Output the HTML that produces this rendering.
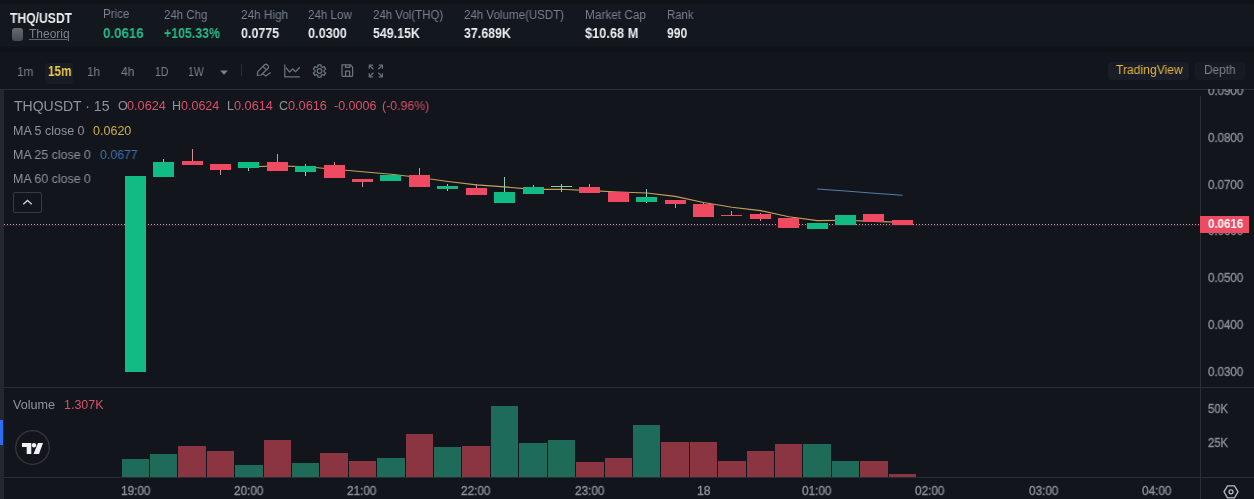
<!DOCTYPE html>
<html><head><meta charset="utf-8"><style>
html,body{margin:0;padding:0;}
body{width:1254px;height:499px;overflow:hidden;position:relative;background:#12161c;font-family:"Liberation Sans",sans-serif;}
.t{position:absolute;white-space:nowrap;transform-origin:0 50%;-webkit-font-smoothing:antialiased;will-change:transform;}
.abs{position:absolute;}
</style></head><body>
<div class="abs" style="left:0;top:0;width:1254px;height:48px;background:#13171e;"></div>
<div class="abs" style="left:0;top:0;width:1254px;height:3.5px;background:#0f1217;"></div>
<div class="abs" style="left:0;top:46px;width:1254px;height:7px;background:linear-gradient(#13171e,#0f1217 30%,#0f1217 65%,#12161c);"></div>
<div class="abs" style="left:12px;top:28px;width:11px;height:13px;border-radius:3px;background:linear-gradient(#676b72,#464a51);"></div>
<div class="abs" style="left:45px;top:62.5px;width:28px;height:21px;border-radius:3px;background:#181c23;"></div>
<div class="abs" style="left:1108px;top:62px;width:81px;height:18px;border-radius:4px;background:#191d27;"></div>
<div class="abs" style="left:1195px;top:62px;width:50px;height:18px;border-radius:4px;background:#171b21;"></div>
<div class="abs" style="left:241px;top:64px;width:1px;height:12px;background:#2a2e36;"></div>
<svg class="abs" style="left:0;top:0" width="1254" height="499" viewBox="0 0 1254 499">
<!-- dropdown triangle -->
<path d="M220,70.5 L228,70.5 L224,74.8 Z" fill="#7a818b"/>
<!-- pencil -->
<g fill="none" stroke="#6c737d" stroke-width="1.25" stroke-linejoin="round">
<path d="M257.3,75.3 L257.8,71.6 L264.6,64.8 Q266,63.6 267.4,65 L268,65.6 Q269.3,67 268,68.3 L261.2,75 Z"/>
<path d="M263,66.5 L266.2,69.6"/>
<path d="M262.3,73.6 L265.8,76.1 L270.6,72.6"/>
<!-- chart icon -->
<path d="M284.8,64.5 L284.8,76.8 L299.8,76.8"/>
<path d="M286,67.6 L289.5,72 L292.7,69 L295.5,71.8 L299.8,67.2"/>
<!-- gear -->
<path d="M318.06,64.76 L320.94,64.76 L321.22,66.73 L322.33,67.38 L324.18,66.64 L325.62,69.13 L324.06,70.36 L324.06,71.64 L325.62,72.87 L324.18,75.36 L322.33,74.62 L321.22,75.27 L320.94,77.24 L318.06,77.24 L317.78,75.27 L316.67,74.62 L314.82,75.36 L313.38,72.87 L314.94,71.64 L314.94,70.36 L313.38,69.13 L314.82,66.64 L316.67,67.38 L317.78,66.73 Z"/>
<circle cx="319.5" cy="71.0" r="2.3"/>
<!-- save -->
<path d="M342,64.8 L350.3,64.8 L352.6,67.1 L352.6,75.6 Q352.6,76.3 351.9,76.3 L342.7,76.3 Q342,76.3 342,75.6 Z"/>
<path d="M345.6,76.3 L345.6,71 L349.6,71 L349.6,76.3"/>
<path d="M345.6,64.8 L345.6,67.4 L349.8,67.4 L349.8,64.8"/>
<!-- fullscreen -->
<path d="M369.3,68.8 L369.3,65.1 L373,65.1 M378.8,65.1 L382.4,65.1 L382.4,68.8 M382.4,73.2 L382.4,76.9 L378.8,76.9 M373,76.9 L369.3,76.9 L369.3,73.2"/>
<path d="M369.8,65.6 L373.4,69.2 M381.9,65.6 L378.3,69.2 M381.9,76.4 L378.3,72.8 M369.8,76.4 L373.4,72.8"/>
</g>
</svg>
<div class="abs" style="left:0;top:88.5px;width:1254px;height:1.5px;background:#292d34;"></div>
<div class="abs" style="left:0;top:90px;width:4px;height:409px;background:#23282e;"></div>
<div class="abs" style="left:0;top:420px;width:3px;height:25px;background:#2f6bf0;"></div>
<div class="abs" style="left:1200px;top:96px;width:1px;height:403px;background:#292d34;"></div>
<div class="abs" style="left:4px;top:387px;width:1250px;height:1px;background:#292d34;"></div>
<div class="abs" style="left:4px;top:477px;width:1250px;height:1px;background:#292d34;"></div>
<div class="abs" style="left:13px;top:192px;width:27px;height:18.5px;border:1px solid #363a42;border-radius:2px;"></div>
<svg class="abs" style="left:0;top:0" width="1254" height="499" viewBox="0 0 1254 499">
<path d="M23.3,204.3 L27.5,200.5 L31.7,204.3" fill="none" stroke="#d0d3d8" stroke-width="1.3"/>
<line x1="4" y1="225.5" x2="1200" y2="225.5" stroke="#301d25" stroke-width="1"/>
<line x1="4" y1="224.5" x2="1200" y2="224.5" stroke="#c2a6ae" stroke-width="1" stroke-dasharray="1 2"/>
<rect x="122" y="459" width="27" height="18" fill="#1f6b5a"/>
<rect x="150" y="454" width="27" height="23" fill="#1f6b5a"/>
<rect x="178" y="446" width="28" height="31" fill="#8b3442"/>
<rect x="207" y="451" width="27" height="26" fill="#8b3442"/>
<rect x="235" y="465" width="28" height="12" fill="#1f6b5a"/>
<rect x="264" y="440" width="27" height="37" fill="#8b3442"/>
<rect x="292" y="463" width="27" height="14" fill="#1f6b5a"/>
<rect x="320" y="453" width="28" height="24" fill="#8b3442"/>
<rect x="349" y="461" width="27" height="16" fill="#8b3442"/>
<rect x="377" y="458" width="28" height="19" fill="#1f6b5a"/>
<rect x="406" y="434" width="27" height="43" fill="#8b3442"/>
<rect x="434" y="447" width="27" height="30" fill="#1f6b5a"/>
<rect x="462" y="446" width="28" height="31" fill="#8b3442"/>
<rect x="491" y="406" width="27" height="71" fill="#1f6b5a"/>
<rect x="519" y="443" width="28" height="34" fill="#1f6b5a"/>
<rect x="548" y="440" width="27" height="37" fill="#1f6b5a"/>
<rect x="576" y="462" width="28" height="15" fill="#8b3442"/>
<rect x="605" y="458" width="27" height="19" fill="#8b3442"/>
<rect x="633" y="425" width="27" height="52" fill="#1f6b5a"/>
<rect x="661" y="442" width="28" height="35" fill="#8b3442"/>
<rect x="690" y="442" width="27" height="35" fill="#8b3442"/>
<rect x="718" y="461" width="28" height="16" fill="#8b3442"/>
<rect x="747" y="451" width="27" height="26" fill="#8b3442"/>
<rect x="775" y="444" width="27" height="33" fill="#8b3442"/>
<rect x="803" y="444" width="28" height="33" fill="#1f6b5a"/>
<rect x="832" y="461" width="27" height="16" fill="#1f6b5a"/>
<rect x="860" y="461" width="28" height="16" fill="#8b3442"/>
<rect x="889" y="474" width="27" height="3" fill="#8b3442"/>
<path d="M249.1,167.0 L277.5,165.9 L305.9,166.7 L334.3,169.3 L362.8,171.7 L391.2,174.2 L419.6,177.5 L448.0,181.5 L476.4,184.9 L504.8,186.9 L533.2,189.4 L561.6,189.3 L590.0,190.6 L618.4,192.0 L646.8,193.0 L675.2,196.4 L703.6,202.5 L732.0,207.2 L760.5,210.6 L788.9,216.8 L817.3,220.6 L845.7,220.2 L874.1,221.4 L902.5,222.4" fill="none" stroke="#c4a05a" stroke-width="1.1"/>
<path d="M817.3,189.0 L845.7,191.0 L874.1,193.3 L902.5,195.3" fill="none" stroke="#4f7ea8" stroke-width="1.1"/>
<rect x="125" y="176" width="21" height="196" fill="#12bb84"/>
<rect x="163" y="159" width="1" height="3" fill="#86d2b2"/>
<rect x="153" y="162" width="21" height="15" fill="#12bb84"/>
<rect x="192" y="149" width="1" height="12" fill="#d98e9a"/>
<rect x="182" y="161" width="21" height="4" fill="#ef4a61"/>
<rect x="220" y="170" width="1" height="5" fill="#d98e9a"/>
<rect x="210" y="164" width="21" height="6" fill="#ef4a61"/>
<rect x="248" y="168" width="1" height="3" fill="#86d2b2"/>
<rect x="238" y="162" width="21" height="6" fill="#12bb84"/>
<rect x="277" y="154" width="1" height="8" fill="#d98e9a"/>
<rect x="267" y="162" width="21" height="9" fill="#ef4a61"/>
<rect x="305" y="164" width="1" height="2" fill="#86d2b2"/>
<rect x="305" y="172" width="1" height="4" fill="#86d2b2"/>
<rect x="295" y="166" width="21" height="6" fill="#12bb84"/>
<rect x="334" y="162" width="1" height="3" fill="#d98e9a"/>
<rect x="324" y="165" width="21" height="13" fill="#ef4a61"/>
<rect x="362" y="182" width="1" height="5" fill="#d98e9a"/>
<rect x="352" y="179" width="21" height="3" fill="#ef4a61"/>
<rect x="380" y="175" width="21" height="6" fill="#12bb84"/>
<rect x="419" y="168" width="1" height="7" fill="#d98e9a"/>
<rect x="409" y="175" width="21" height="12" fill="#ef4a61"/>
<rect x="447" y="184" width="1" height="2" fill="#86d2b2"/>
<rect x="447" y="189" width="1" height="2" fill="#86d2b2"/>
<rect x="437" y="186" width="21" height="3" fill="#12bb84"/>
<rect x="476" y="184" width="1" height="4" fill="#d98e9a"/>
<rect x="466" y="188" width="21" height="7" fill="#ef4a61"/>
<rect x="504" y="177" width="1" height="15" fill="#86d2b2"/>
<rect x="494" y="192" width="21" height="11" fill="#12bb84"/>
<rect x="533" y="185" width="1" height="2" fill="#86d2b2"/>
<rect x="523" y="187" width="21" height="7" fill="#12bb84"/>
<rect x="561" y="184" width="1" height="2" fill="#86d2b2"/>
<rect x="561" y="187" width="1" height="5" fill="#86d2b2"/>
<rect x="551" y="186" width="21" height="1" fill="#7fcfa9"/>
<rect x="589" y="184" width="1" height="3" fill="#d98e9a"/>
<rect x="579" y="187" width="21" height="6" fill="#ef4a61"/>
<rect x="608" y="192" width="21" height="10" fill="#ef4a61"/>
<rect x="646" y="189" width="1" height="8" fill="#86d2b2"/>
<rect x="646" y="202" width="1" height="1" fill="#86d2b2"/>
<rect x="636" y="197" width="21" height="5" fill="#12bb84"/>
<rect x="675" y="204" width="1" height="4" fill="#d98e9a"/>
<rect x="665" y="200" width="21" height="4" fill="#ef4a61"/>
<rect x="703" y="203" width="1" height="1" fill="#d98e9a"/>
<rect x="693" y="204" width="21" height="13" fill="#ef4a61"/>
<rect x="731" y="211" width="1" height="4" fill="#d98e9a"/>
<rect x="721" y="215" width="21" height="1" fill="#ef4a61"/>
<rect x="760" y="213" width="1" height="1" fill="#d98e9a"/>
<rect x="760" y="219" width="1" height="2" fill="#d98e9a"/>
<rect x="750" y="214" width="21" height="5" fill="#ef4a61"/>
<rect x="778" y="218" width="21" height="10" fill="#ef4a61"/>
<rect x="807" y="223" width="21" height="6" fill="#12bb84"/>
<rect x="835" y="215" width="21" height="10" fill="#12bb84"/>
<rect x="863" y="214" width="21" height="8" fill="#ef4a61"/>
<rect x="892" y="220" width="21" height="5" fill="#ef4a61"/>
<circle cx="32.5" cy="447.5" r="16.8" fill="none" stroke="#343840" stroke-width="1.3"/>
<path d="M22,443 L31.3,443 L31.3,454 L26.7,454 L26.7,447 L22,447 Z" fill="#f0f2f5"/>
<circle cx="34" cy="445.3" r="2.2" fill="#f0f2f5"/>
<path d="M38,443 L43,443 L39,454 L33.5,454 Z" fill="#f0f2f5"/>
<path d="M1227.5,485.8 L1234.5,485.8 L1238,491.8 L1234.5,497.8 L1227.5,497.8 L1224,491.8 Z" fill="none" stroke="#b8bcc2" stroke-width="1.3"/>
<circle cx="1231" cy="491.8" r="2" fill="none" stroke="#b8bcc2" stroke-width="1.3"/>
</svg>
<div class="t" id="t0" style="left:9.6px;top:11.25px;font-size:14px;line-height:14px;font-weight:700;color:#eaecef;transform:scaleX(0.8667);">THQ/USDT</div>
<div class="t" id="t1" style="left:28.8px;top:27.74px;font-size:12px;line-height:12px;font-weight:400;color:#7d848e;transform:scaleX(0.9902);text-decoration:underline;text-underline-offset:1px;text-decoration-color:#5f656e;">Theoriq</div>
<div class="t" id="t2" style="left:103.0px;top:7.74px;font-size:12px;line-height:12px;font-weight:400;color:#7a818b;transform:scaleX(0.9630);">Price</div>
<div class="t" id="t3" style="left:103.0px;top:26.25px;font-size:14px;line-height:14px;font-weight:700;color:#25bb86;transform:scaleX(0.9488);">0.0616</div>
<div class="t" id="t4" style="left:164.0px;top:8.74px;font-size:12px;line-height:12px;font-weight:400;color:#7a818b;transform:scaleX(0.9556);">24h Chg</div>
<div class="t" id="t5" style="left:164.0px;top:26.25px;font-size:14px;line-height:14px;font-weight:700;color:#25bb86;transform:scaleX(0.8810);">+105.33%</div>
<div class="t" id="t6" style="left:240.5px;top:8.74px;font-size:12px;line-height:12px;font-weight:400;color:#7a818b;transform:scaleX(0.9833);">24h High</div>
<div class="t" id="t7" style="left:240.5px;top:26.25px;font-size:14px;line-height:14px;font-weight:700;color:#eaecef;transform:scaleX(0.8907);">0.0775</div>
<div class="t" id="t8" style="left:308.0px;top:8.74px;font-size:12px;line-height:12px;font-weight:400;color:#7a818b;transform:scaleX(0.9667);">24h Low</div>
<div class="t" id="t9" style="left:308.0px;top:26.25px;font-size:14px;line-height:14px;font-weight:700;color:#eaecef;transform:scaleX(0.9070);">0.0300</div>
<div class="t" id="t10" style="left:373.0px;top:8.74px;font-size:12px;line-height:12px;font-weight:400;color:#7a818b;transform:scaleX(0.9589);">24h Vol(THQ)</div>
<div class="t" id="t11" style="left:373.0px;top:26.25px;font-size:14px;line-height:14px;font-weight:700;color:#eaecef;transform:scaleX(0.8868);">549.15K</div>
<div class="t" id="t12" style="left:464.0px;top:8.74px;font-size:12px;line-height:12px;font-weight:400;color:#7a818b;transform:scaleX(0.9615);">24h Volume(USDT)</div>
<div class="t" id="t13" style="left:464.0px;top:26.25px;font-size:14px;line-height:14px;font-weight:700;color:#eaecef;transform:scaleX(0.8868);">37.689K</div>
<div class="t" id="t14" style="left:585.0px;top:8.74px;font-size:12px;line-height:12px;font-weight:400;color:#7a818b;transform:scaleX(0.9839);">Market Cap</div>
<div class="t" id="t15" style="left:585.0px;top:26.25px;font-size:14px;line-height:14px;font-weight:700;color:#eaecef;transform:scaleX(0.9138);">$10.68 M</div>
<div class="t" id="t16" style="left:667.0px;top:8.74px;font-size:12px;line-height:12px;font-weight:400;color:#7a818b;transform:scaleX(0.9464);">Rank</div>
<div class="t" id="t17" style="left:667.0px;top:26.25px;font-size:14px;line-height:14px;font-weight:700;color:#eaecef;transform:scaleX(0.8696);">990</div>
<div class="t" id="t18" style="left:17.2px;top:64.80px;font-size:13px;line-height:13px;font-weight:400;color:#7a818b;transform:scaleX(0.9056);">1m</div>
<div class="t" id="t19" style="left:87.0px;top:64.80px;font-size:13px;line-height:13px;font-weight:400;color:#7a818b;transform:scaleX(0.8929);">1h</div>
<div class="t" id="t20" style="left:120.6px;top:64.80px;font-size:13px;line-height:13px;font-weight:400;color:#7a818b;transform:scaleX(0.9286);">4h</div>
<div class="t" id="t21" style="left:154.6px;top:64.80px;font-size:13px;line-height:13px;font-weight:400;color:#7a818b;transform:scaleX(0.8118);">1D</div>
<div class="t" id="t22" style="left:187.6px;top:64.80px;font-size:13px;line-height:13px;font-weight:400;color:#7a818b;transform:scaleX(0.8100);">1W</div>
<div class="t" id="t23" style="left:47.8px;top:63.73px;font-size:14.5px;line-height:14.5px;font-weight:700;color:#eec64a;transform:scaleX(0.8069);">15m</div>
<div class="t" id="t24" style="left:1116.0px;top:64.02px;font-size:12.5px;line-height:12.5px;font-weight:400;color:#eab53e;transform:scaleX(0.9710);">TradingView</div>
<div class="t" id="t25" style="left:1203.8px;top:64.02px;font-size:12.5px;line-height:12.5px;font-weight:400;color:#7c838d;transform:scaleX(0.9455);">Depth</div>
<div class="t" id="t26" style="left:14.3px;top:99.45px;font-size:14px;line-height:14px;font-weight:400;color:#90939b;">THQUSDT · 15</div>
<div class="t" id="t27" style="left:118.0px;top:100.22px;font-size:12.5px;line-height:12.5px;font-weight:400;color:#90939b;">O</div>
<div class="t" id="t28" style="left:127.0px;top:100.22px;font-size:12.5px;line-height:12.5px;font-weight:400;color:#d9506a;transform:scaleX(1.0158);">0.0624</div>
<div class="t" id="t29" style="left:172.2px;top:100.22px;font-size:12.5px;line-height:12.5px;font-weight:400;color:#90939b;">H</div>
<div class="t" id="t30" style="left:180.8px;top:100.22px;font-size:12.5px;line-height:12.5px;font-weight:400;color:#d9506a;">0.0624</div>
<div class="t" id="t31" style="left:226.7px;top:100.22px;font-size:12.5px;line-height:12.5px;font-weight:400;color:#90939b;">L</div>
<div class="t" id="t32" style="left:234.0px;top:100.22px;font-size:12.5px;line-height:12.5px;font-weight:400;color:#d9506a;transform:scaleX(1.0184);">0.0614</div>
<div class="t" id="t33" style="left:279.2px;top:100.22px;font-size:12.5px;line-height:12.5px;font-weight:400;color:#90939b;">C</div>
<div class="t" id="t34" style="left:287.9px;top:100.22px;font-size:12.5px;line-height:12.5px;font-weight:400;color:#d9506a;transform:scaleX(1.0184);">0.0616</div>
<div class="t" id="t35" style="left:333.9px;top:100.22px;font-size:12.5px;line-height:12.5px;font-weight:400;color:#d9506a;transform:scaleX(0.9976);">-0.0006</div>
<div class="t" id="t36" style="left:381.8px;top:100.22px;font-size:12.5px;line-height:12.5px;font-weight:400;color:#d9506a;transform:scaleX(0.9854);">(-0.96%)</div>
<div class="t" id="t37" style="left:13.0px;top:125.12px;font-size:12.5px;line-height:12.5px;font-weight:400;color:#90939b;transform:scaleX(0.9958);">MA 5 close 0</div>
<div class="t" id="t38" style="left:93.2px;top:125.12px;font-size:12.5px;line-height:12.5px;font-weight:400;color:#cfae48;transform:scaleX(1.0026);">0.0620</div>
<div class="t" id="t39" style="left:13.0px;top:148.82px;font-size:12.5px;line-height:12.5px;font-weight:400;color:#90939b;transform:scaleX(0.9911);">MA 25 close 0</div>
<div class="t" id="t40" style="left:100.0px;top:148.82px;font-size:12.5px;line-height:12.5px;font-weight:400;color:#3c73b0;transform:scaleX(0.9842);">0.0677</div>
<div class="t" id="t41" style="left:13.0px;top:172.92px;font-size:12.5px;line-height:12.5px;font-weight:400;color:#90939b;transform:scaleX(0.9911);">MA 60 close 0</div>
<div class="t" id="t42" style="left:1208.0px;top:85.14px;font-size:12px;line-height:12px;font-weight:400;color:#8a9098;transform:scaleX(0.9595);-webkit-text-stroke:0.35px #8a9098;clip-path:inset(4.5px 0 0 0);">0.0900</div>
<div class="t" id="t43" style="left:1208.0px;top:131.89px;font-size:12px;line-height:12px;font-weight:400;color:#8a9098;transform:scaleX(0.9595);-webkit-text-stroke:0.35px #8a9098;">0.0800</div>
<div class="t" id="t44" style="left:1208.0px;top:178.64px;font-size:12px;line-height:12px;font-weight:400;color:#8a9098;transform:scaleX(0.9595);-webkit-text-stroke:0.35px #8a9098;">0.0700</div>
<div class="t" id="t45" style="left:1208.0px;top:225.39px;font-size:12px;line-height:12px;font-weight:400;color:#8a9098;transform:scaleX(0.9595);-webkit-text-stroke:0.35px #8a9098;">0.0600</div>
<div class="t" id="t46" style="left:1208.0px;top:272.14px;font-size:12px;line-height:12px;font-weight:400;color:#8a9098;transform:scaleX(0.9595);-webkit-text-stroke:0.35px #8a9098;">0.0500</div>
<div class="t" id="t47" style="left:1208.0px;top:318.89px;font-size:12px;line-height:12px;font-weight:400;color:#8a9098;transform:scaleX(0.9595);-webkit-text-stroke:0.35px #8a9098;">0.0400</div>
<div class="t" id="t48" style="left:1208.0px;top:365.64px;font-size:12px;line-height:12px;font-weight:400;color:#8a9098;transform:scaleX(0.9595);-webkit-text-stroke:0.35px #8a9098;">0.0300</div>
<div class="t" id="t49" style="left:13.0px;top:398.84px;font-size:12px;line-height:12px;font-weight:400;color:#90939b;transform:scaleX(1.0500);">Volume</div>
<div class="t" id="t50" style="left:64.4px;top:398.84px;font-size:12px;line-height:12px;font-weight:400;color:#d9506a;transform:scaleX(1.0368);">1.307K</div>
<div class="t" id="t51" style="left:1208.0px;top:402.84px;font-size:12px;line-height:12px;font-weight:400;color:#8a9098;transform:scaleX(0.9381);-webkit-text-stroke:0.35px #8a9098;">50K</div>
<div class="t" id="t52" style="left:1208.0px;top:436.94px;font-size:12px;line-height:12px;font-weight:400;color:#8a9098;transform:scaleX(0.9381);-webkit-text-stroke:0.35px #8a9098;">25K</div>
<div class="t" id="t53" style="left:120.7px;top:484.84px;font-size:12px;line-height:12px;font-weight:400;color:#8a9098;transform:scaleX(0.9800);-webkit-text-stroke:0.35px #8a9098;">19:00</div>
<div class="t" id="t54" style="left:233.6px;top:484.84px;font-size:12px;line-height:12px;font-weight:400;color:#8a9098;transform:scaleX(0.9800);-webkit-text-stroke:0.35px #8a9098;">20:00</div>
<div class="t" id="t55" style="left:347.3px;top:484.84px;font-size:12px;line-height:12px;font-weight:400;color:#8a9098;transform:scaleX(0.9800);-webkit-text-stroke:0.35px #8a9098;">21:00</div>
<div class="t" id="t56" style="left:460.8px;top:484.84px;font-size:12px;line-height:12px;font-weight:400;color:#8a9098;transform:scaleX(0.9800);-webkit-text-stroke:0.35px #8a9098;">22:00</div>
<div class="t" id="t57" style="left:574.5px;top:484.84px;font-size:12px;line-height:12px;font-weight:400;color:#8a9098;transform:scaleX(0.9800);-webkit-text-stroke:0.35px #8a9098;">23:00</div>
<div class="t" id="t58" style="left:696.8px;top:484.84px;font-size:12px;line-height:12px;font-weight:400;color:#8a9098;transform:scaleX(1.0154);-webkit-text-stroke:0.35px #8a9098;">18</div>
<div class="t" id="t59" style="left:801.6px;top:484.84px;font-size:12px;line-height:12px;font-weight:400;color:#8a9098;transform:scaleX(0.9800);-webkit-text-stroke:0.35px #8a9098;">01:00</div>
<div class="t" id="t60" style="left:915.3px;top:484.84px;font-size:12px;line-height:12px;font-weight:400;color:#8a9098;transform:scaleX(0.9800);-webkit-text-stroke:0.35px #8a9098;">02:00</div>
<div class="t" id="t61" style="left:1028.7px;top:484.84px;font-size:12px;line-height:12px;font-weight:400;color:#8a9098;transform:scaleX(0.9800);-webkit-text-stroke:0.35px #8a9098;">03:00</div>
<div class="t" id="t62" style="left:1142.1px;top:484.84px;font-size:12px;line-height:12px;font-weight:400;color:#8a9098;transform:scaleX(0.9800);-webkit-text-stroke:0.35px #8a9098;">04:00</div>
<div class="abs" style="left:1200px;top:216px;width:49px;height:17px;background:#ee4b62;"></div>
<div class="t" id="plabel" style="left:1208px;top:218.4px;font-size:12px;line-height:12px;font-weight:700;color:#ffffff;transform:scaleX(0.96);">0.0616</div>
</body></html>
